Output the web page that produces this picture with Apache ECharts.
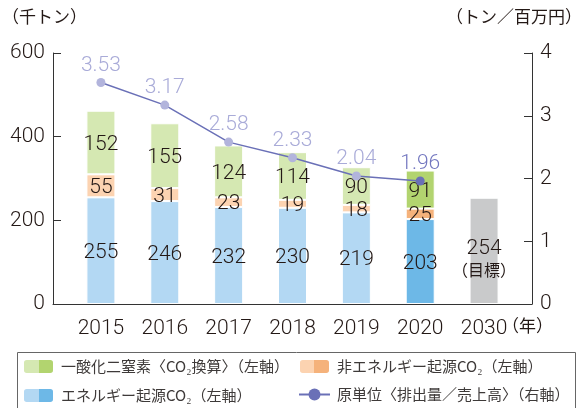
<!DOCTYPE html>
<html><head><meta charset="utf-8">
<script src="https://cdn.jsdelivr.net/npm/echarts@6/dist/echarts.min.js"></script>
<style>html,body{margin:0;padding:0;background:#fff}#c{width:585px;height:408px}</style>
</head><body><div id="c"></div>
<script>
const categories = ['2015','2016','2017','2018','2019','2020','2030'];
const energyCO2 = [255, 246, 232, 230, 219, 203, null];
const nonEnergyCO2 = [55, 31, 23, 19, 18, 25, null];
const n2o = [152, 155, 124, 114, 90, 91, null];
const target2030 = [null, null, null, null, null, null, 254];
const intensity = [3.53, 3.17, 2.58, 2.33, 2.04, 1.96, null];
const names = {
  n2o: '一酸化二窒素〈CO₂換算〉（左軸）',
  nonEnergy: '非エネルギー起源CO₂（左軸）',
  energy: 'エネルギー起源CO₂（左軸）',
  line: '原単位〈排出量／売上高〉（右軸）',
  target: '目標'
};

const FONT = "Roboto,'Noto Sans CJK JP',sans-serif";
const FW = 300;
const TXT = '#231815';
const HI = 5; // highlighted (latest) year index

function twoTone(a, b) {
  return new echarts.graphic.LinearGradient(0, 0, 1, 0, [
    {offset: 0, color: a}, {offset: 0.5, color: a},
    {offset: 0.5, color: b}, {offset: 1, color: b}]);
}
function items(arr, light, dark) {
  return arr.map((v, i) => v == null ? '-' : {value: v, itemStyle: {color: i === HI ? dark : light}});
}
const C = {
  blue: ['#b3d8f3', '#6db8e7'],
  orange: ['#fcd3b1', '#f5b27b'],
  green: ['#d5e8b2', '#b2d46f'],
  gray: '#c9cacb',
  line: '#6a70b7', ptLight: '#b2b4dc', lblLight: '#a9abd8', lblDark: '#7276bf'
};

const num = {color: TXT, fontSize: 21, fontFamily: FONT, fontWeight: FW};
const barLabel = Object.assign({show: true, position: 'inside', offset: [0, 2]}, num);
const barCommon = {type: 'bar', stack: 's', xAxisIndex: 1, yAxisIndex: 2, barWidth: 29,
  itemStyle: {borderColor: '#fff', borderWidth: 1}, label: barLabel};

function leg(name, left, top) {
  return {left: left, top: top, itemWidth: 31, itemHeight: 15, itemGap: 0, padding: 0,
    data: [name], textStyle: {color: '#3e3a39', fontSize: 15, fontFamily: "'Noto Sans CJK JP'", padding: [0, 0, 0, 2]}};
}

const chart = echarts.init(document.getElementById('c'), null, {renderer: 'canvas'});
chart.setOption({
  animation: false,
  textStyle: {fontFamily: FONT},
  grid: [
    {left: 53, right: 53, top: 53, bottom: 104},
    {left: 69, right: 69, top: 53, bottom: 104}
  ],
  xAxis: [
    {gridIndex: 0, type: 'value', min: 0, max: 1, axisLine: {show: true, lineStyle: {color: '#333', width: 1}},
     axisTick: {show: false}, axisLabel: {show: false}, splitLine: {show: false}},
    {gridIndex: 1, type: 'category', data: categories, axisLine: {show: false}, axisTick: {show: false},
     axisLabel: Object.assign({margin: 14}, num)}
  ],
  yAxis: [
    {gridIndex: 0, type: 'value', min: 0, max: 600, interval: 200, position: 'left',
     axisLine: {show: true, lineStyle: {color: '#333', width: 1}},
     axisTick: {show: true, inside: true, length: 8, lineStyle: {color: '#333'}},
     axisLabel: Object.assign({margin: 8}, num), splitLine: {show: false}},
    {gridIndex: 0, type: 'value', min: 0, max: 4, interval: 1, position: 'right',
     axisLine: {show: true, lineStyle: {color: '#333', width: 1}},
     axisTick: {show: true, inside: true, length: 8, lineStyle: {color: '#333'}},
     axisLabel: Object.assign({margin: 8}, num), splitLine: {show: false}},
    {gridIndex: 1, type: 'value', min: 0, max: 600, show: false},
    {gridIndex: 1, type: 'value', min: 0, max: 4, show: false}
  ],
  legend: [
    leg(names.n2o, 22, 358),
    leg(names.energy, 22, 387),
    leg(names.nonEnergy, 298, 358),
    leg(names.line, 298, 387)
  ],
  graphic: [
    {type: 'rect', left: 15, top: 350, shape: {width: 558, height: 80}, style: {fill: 'none', stroke: '#666', lineWidth: 1}},
    {type: 'text', left: 2, top: 8, style: {text: '（千トン）', fill: TXT, font: "17px 'Noto Sans CJK JP'"}},
    {type: 'text', right: 3, top: 8, style: {text: '（トン／百万円）', fill: TXT, font: "17px 'Noto Sans CJK JP'"}},
    {type: 'text', left: 502, top: 317, style: {text: '（年）', fill: TXT, font: "17px 'Noto Sans CJK JP'"}}
  ],
  series: [
    Object.assign({}, barCommon, {name: names.energy, data: items(energyCO2, C.blue[0], C.blue[1]),
      color: twoTone(C.blue[0], C.blue[1])}),
    Object.assign({}, barCommon, {name: names.nonEnergy, data: items(nonEnergyCO2, C.orange[0], C.orange[1]),
      color: twoTone(C.orange[0], C.orange[1])}),
    Object.assign({}, barCommon, {name: names.n2o, data: items(n2o, C.green[0], C.green[1]),
      color: twoTone(C.green[0], C.green[1])}),
    Object.assign({}, barCommon, {name: names.target, data: target2030.map(v => v == null ? '-' : v),
      itemStyle: {color: C.gray, borderColor: '#fff', borderWidth: 1},
      label: {show: true, position: 'inside', offset: [0, 8], color: TXT, fontFamily: FONT,
        formatter: p => '{a|' + p.value + '}\n{b|（目標）}',
        rich: {a: {fontSize: 21, color: TXT, fontFamily: FONT, fontWeight: FW, lineHeight: 22},
               b: {fontSize: 16, color: TXT, fontFamily: "'Noto Sans CJK JP'", lineHeight: 20}}}}),
    {type: 'line', name: names.line, xAxisIndex: 1, yAxisIndex: 3, z: 5,
     data: intensity.map((v, i) => v == null ? '-' : {value: v,
        itemStyle: {color: i === HI ? C.line : C.ptLight},
        label: {color: i === HI ? C.lblDark : C.lblLight}}),
     color: C.line, symbol: 'circle', symbolSize: 9,
     lineStyle: {color: C.line, width: 1.5},
     itemStyle: {color: C.line},
     label: {show: true, position: 'top', distance: 2, fontSize: 21, fontFamily: FONT, fontWeight: FW, color: C.lblLight,
       formatter: p => p.value.toFixed(2)}}
  ]
});
</script></body></html>
